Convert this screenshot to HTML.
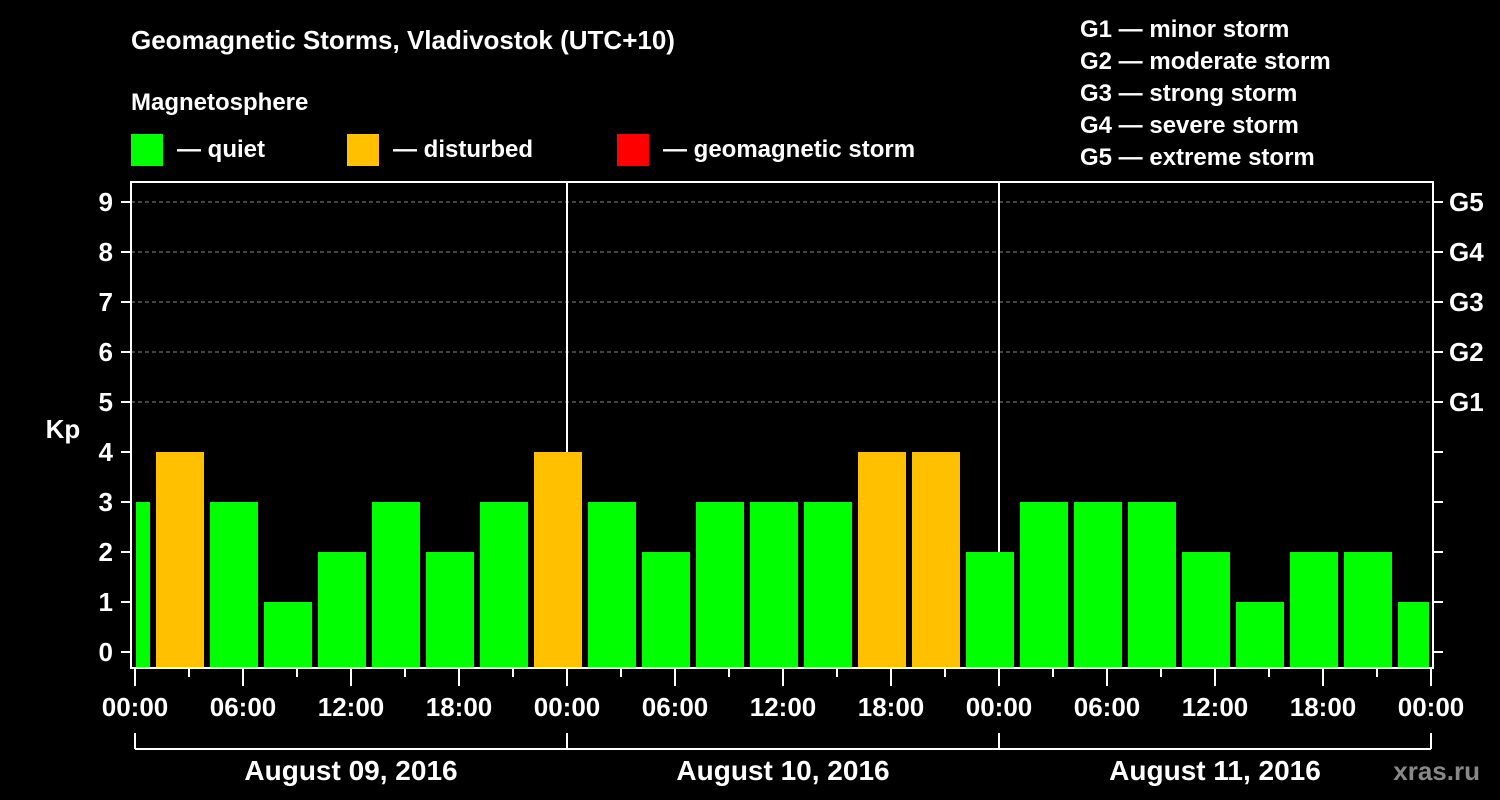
<!DOCTYPE html>
<html><head><meta charset="utf-8"><style>
html,body{margin:0;padding:0;background:#000;}
svg{display:block;font-family:"Liberation Sans",Arial,sans-serif;font-weight:bold;}
</style></head><body>
<svg id="chart" width="1500" height="800" viewBox="0 0 1500 800">
<rect width="1500" height="800" fill="#000"/>
<text x="131" y="49" fill="#fff" font-size="26">Geomagnetic Storms, Vladivostok (UTC+10)</text>
<text x="131" y="110" fill="#fff" font-size="24">Magnetosphere</text>
<g>
<rect x="131" y="134" width="32" height="32" fill="#00ff00"/>
<text x="177" y="157" fill="#fff" font-size="24">— quiet</text>
<rect x="347" y="134" width="32" height="32" fill="#ffc000"/>
<text x="393" y="157" fill="#fff" font-size="24">— disturbed</text>
<rect x="617" y="134" width="32" height="32" fill="#ff0000"/>
<text x="663" y="157" fill="#fff" font-size="24">— geomagnetic storm</text>
</g>
<g fill="#fff" font-size="24">
<text x="1080" y="37">G1 — minor storm</text>
<text x="1080" y="69">G2 — moderate storm</text>
<text x="1080" y="101">G3 — strong storm</text>
<text x="1080" y="133">G4 — severe storm</text>
<text x="1080" y="165">G5 — extreme storm</text>
</g>
<text x="63" y="438" fill="#fff" font-size="26" text-anchor="middle">Kp</text>
<text x="1480" y="780" fill="#888" font-size="26" text-anchor="end">xras.ru</text>
<g id="grid"></g><g id="bars"></g><g id="axes"></g>
</svg>
<script>
const startHours=[-2,1,4,7,10,13,16,19,22,25,28,31,34,37,40,43,46,49,52,55,58,61,64,67,70];
const kpValues=[3,4,3,1,2,3,2,3,4,3,2,3,3,3,4,4,2,3,3,3,2,1,2,2,1];
const yTicks=[0,1,2,3,4,5,6,7,8,9];
const gLabels=["G1","G2","G3","G4","G5"];
const timeLabels=["00:00","06:00","12:00","18:00","00:00","06:00","12:00","18:00","00:00","06:00","12:00","18:00","00:00"];
const dayLabels=["August 09, 2016","August 10, 2016","August 11, 2016"];
const NS="http://www.w3.org/2000/svg";
const X0=135,PXH=18,Y0=652,PXK=50,L=131,R=1433,T=182,B=668;
const xs=h=>X0+h*PXH, ys=k=>Y0-k*PXK;
function mk(tag,attrs,parent){const e=document.createElementNS(NS,tag);for(const k in attrs)e.setAttribute(k,attrs[k]);parent.appendChild(e);return e;}
const grid=document.getElementById('grid'),bars=document.getElementById('bars'),axes=document.getElementById('axes');
yTicks.forEach(k=>{if(k>=5){const l=mk('line',{x1:L,x2:R,y1:ys(k),y2:ys(k),stroke:'#888','stroke-dasharray':'4,3','stroke-width':1},grid);

}});
startHours.forEach((h,i)=>{let a=Math.max(xs(h)+3,L+5),b=Math.min(xs(h+3)-3,R-4);const v=kpValues[i];
const r=mk('rect',{x:a,y:ys(v),width:b-a,height:B-ys(v),fill:v>=5?'#ff0000':(v>=4?'#ffc000':'#00ff00')},bars);

});
[1,2].forEach(d=>{const l=mk('line',{x1:xs(24*d),x2:xs(24*d),y1:T,y2:ys(kpValues[d===1?8:16]),stroke:'#fff','stroke-width':2},axes);

});
const fr=mk('rect',{x:L,y:T,width:R-L,height:B-T,fill:'none',stroke:'#fff','stroke-width':2},axes);


yTicks.forEach(k=>{mk('line',{x1:121,x2:L,y1:ys(k),y2:ys(k),stroke:'#fff','stroke-width':2},axes);
mk('line',{x1:R,x2:R+10,y1:ys(k),y2:ys(k),stroke:'#fff','stroke-width':2},axes);
const t=mk('text',{x:113,y:ys(k)+9,fill:'#fff','font-size':26,'text-anchor':'end'},axes);t.textContent=k;


if(k>=5){const g=mk('text',{x:1449,y:ys(k)+9,fill:'#fff','font-size':26},axes);g.textContent=gLabels[k-5];

}});
for(let h=0;h<=72;h+=3){const major=h%6===0;mk('line',{x1:xs(h),x2:xs(h),y1:B,y2:major?686:677,stroke:'#fff','stroke-width':2},axes);}
timeLabels.forEach((s,i)=>{const t=mk('text',{x:xs(i*6),y:716,fill:'#fff','font-size':26,'text-anchor':'middle'},axes);t.textContent=s;

});
mk('line',{x1:xs(0),x2:xs(72),y1:749,y2:749,stroke:'#fff','stroke-width':2},axes);
for(let d=0;d<=3;d++)mk('line',{x1:xs(24*d),x2:xs(24*d),y1:733,y2:749,stroke:'#fff','stroke-width':2},axes);
dayLabels.forEach((s,i)=>{const t=mk('text',{x:xs(24*i+12),y:780,fill:'#fff','font-size':28,'text-anchor':'middle'},axes);t.textContent=s;

});
</script>
</body></html>
